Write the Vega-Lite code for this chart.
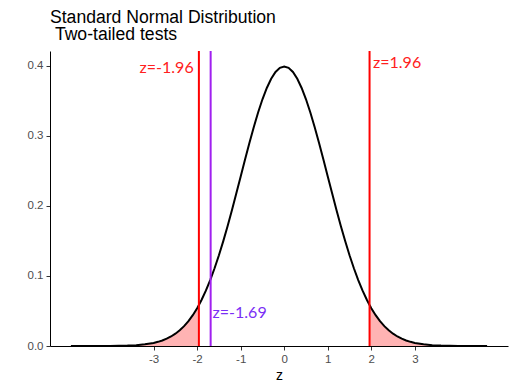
{
  "$schema": "https://vega.github.io/schema/vega-lite/v6.json",
  "width": 458,
  "height": 295,
  "autosize": "none",
  "padding": {"left": 50, "top": 51, "right": 9, "bottom": 38},
  "background": "white",
  "config": {"view": {"stroke": null}},
  "title": {
    "text": ["Standard Normal Distribution", "\u200b\u00a0Two-tailed tests"],
    "anchor": "start",
    "frame": "group",
    "font": "Liberation Sans",
    "fontSize": 17.6,
    "fontWeight": "normal",
    "color": "black",
    "lineHeight": 17.5,
    "baseline": "bottom",
    "offset": -12
  },
  "datasets": {
    "curve": [
      {"z": -4.9, "d": 0.0000},
      {"z": -4.5, "d": 0.00002},
      {"z": -4.2, "d": 0.00006},
      {"z": -4.0, "d": 0.00013},
      {"z": -3.8, "d": 0.00029},
      {"z": -3.6, "d": 0.00061},
      {"z": -3.4, "d": 0.00123},
      {"z": -3.2, "d": 0.00238},
      {"z": -3.0, "d": 0.00443},
      {"z": -2.9, "d": 0.00595},
      {"z": -2.8, "d": 0.00792},
      {"z": -2.7, "d": 0.01042},
      {"z": -2.6, "d": 0.01358},
      {"z": -2.5, "d": 0.01753},
      {"z": -2.4, "d": 0.02239},
      {"z": -2.3, "d": 0.02833},
      {"z": -2.2, "d": 0.03547},
      {"z": -2.1, "d": 0.04398},
      {"z": -2.0, "d": 0.05399},
      {"z": -1.96, "d": 0.05845},
      {"z": -1.9, "d": 0.06562},
      {"z": -1.8, "d": 0.07895},
      {"z": -1.7, "d": 0.09405},
      {"z": -1.6, "d": 0.11092},
      {"z": -1.5, "d": 0.12952},
      {"z": -1.4, "d": 0.14973},
      {"z": -1.3, "d": 0.17137},
      {"z": -1.2, "d": 0.19419},
      {"z": -1.1, "d": 0.21785},
      {"z": -1.0, "d": 0.24197},
      {"z": -0.9, "d": 0.26609},
      {"z": -0.8, "d": 0.28969},
      {"z": -0.7, "d": 0.31225},
      {"z": -0.6, "d": 0.33322},
      {"z": -0.5, "d": 0.35207},
      {"z": -0.4, "d": 0.36827},
      {"z": -0.3, "d": 0.38139},
      {"z": -0.2, "d": 0.39104},
      {"z": -0.1, "d": 0.39695},
      {"z": 0.0, "d": 0.39894},
      {"z": 0.1, "d": 0.39695},
      {"z": 0.2, "d": 0.39104},
      {"z": 0.3, "d": 0.38139},
      {"z": 0.4, "d": 0.36827},
      {"z": 0.5, "d": 0.35207},
      {"z": 0.6, "d": 0.33322},
      {"z": 0.7, "d": 0.31225},
      {"z": 0.8, "d": 0.28969},
      {"z": 0.9, "d": 0.26609},
      {"z": 1.0, "d": 0.24197},
      {"z": 1.1, "d": 0.21785},
      {"z": 1.2, "d": 0.19419},
      {"z": 1.3, "d": 0.17137},
      {"z": 1.4, "d": 0.14973},
      {"z": 1.5, "d": 0.12952},
      {"z": 1.6, "d": 0.11092},
      {"z": 1.7, "d": 0.09405},
      {"z": 1.8, "d": 0.07895},
      {"z": 1.9, "d": 0.06562},
      {"z": 1.96, "d": 0.05845},
      {"z": 2.0, "d": 0.05399},
      {"z": 2.1, "d": 0.04398},
      {"z": 2.2, "d": 0.03547},
      {"z": 2.3, "d": 0.02833},
      {"z": 2.4, "d": 0.02239},
      {"z": 2.5, "d": 0.01753},
      {"z": 2.6, "d": 0.01358},
      {"z": 2.7, "d": 0.01042},
      {"z": 2.8, "d": 0.00792},
      {"z": 2.9, "d": 0.00595},
      {"z": 3.0, "d": 0.00443},
      {"z": 3.2, "d": 0.00238},
      {"z": 3.4, "d": 0.00123},
      {"z": 3.6, "d": 0.00061},
      {"z": 3.8, "d": 0.00029},
      {"z": 4.0, "d": 0.00013},
      {"z": 4.3, "d": 0.00004},
      {"z": 4.66, "d": 0.00001}
    ],
    "vlines": [
      {"z": -1.96, "kind": "crit"},
      {"z": 1.96, "kind": "crit"},
      {"z": -1.69, "kind": "obs"}
    ],
    "labels": [
      {"z": -2.08, "y": 0.39, "label": "z=-1.96", "pos": "left"},
      {"z": 2.04, "y": 0.397, "label": "z=1.96", "pos": "right"},
      {"z": -1.645, "y": 0.04, "label": "z=-1.69", "pos": "obs"}
    ]
  },
  "encoding": {
    "x": {
      "field": "z",
      "type": "quantitative",
      "scale": {"domain": [-5.38, 5.14], "nice": false, "zero": false},
      "axis": {
        "values": [-3, -2, -1, 0, 1, 2, 3],
        "labelExpr": "'' + datum.value",
        "title": "z",
        "titleFont": "Liberation Sans",
        "titleFontSize": 14,
        "titleFontWeight": "normal",
        "titleColor": "black",
        "titlePadding": 4,
        "labelFont": "Liberation Sans",
        "labelFontSize": 11.5,
        "labelColor": "#4d4d4d",
        "labelPadding": 3,
        "tickColor": "#333333",
        "tickSize": 4,
        "domainColor": "black",
        "grid": false
      }
    }
  },
  "layer": [
    {
      "data": {"name": "curve"},
      "transform": [{"filter": "datum.z <= -1.96"}],
      "mark": {"type": "area", "color": "#ffb3b3", "opacity": 1},
      "encoding": {
        "y": {
          "field": "d",
          "type": "quantitative",
          "scale": {"domain": [0, 0.421], "nice": false},
          "axis": {
            "values": [0, 0.1, 0.2, 0.3, 0.4],
            "format": ".1f",
            "title": null,
            "labelFont": "Liberation Sans",
            "labelFontSize": 11.5,
            "labelColor": "#4d4d4d",
            "labelPadding": 3,
            "tickColor": "#333333",
            "tickSize": 4,
            "domainColor": "black",
            "grid": false
          }
        }
      }
    },
    {
      "data": {"name": "curve"},
      "transform": [{"filter": "datum.z >= 1.96"}],
      "mark": {"type": "area", "color": "#ffb3b3", "opacity": 1},
      "encoding": {"y": {"field": "d", "type": "quantitative"}}
    },
    {
      "data": {"name": "curve"},
      "mark": {"type": "line", "color": "black", "strokeWidth": 2},
      "encoding": {"y": {"field": "d", "type": "quantitative"}}
    },
    {
      "data": {"name": "vlines"},
      "mark": {"type": "rule", "strokeWidth": 2},
      "encoding": {
        "color": {
          "field": "kind",
          "type": "nominal",
          "scale": {"domain": ["crit", "obs"], "range": ["#ff0000", "#a020f0"]},
          "legend": null
        }
      }
    },
    {
      "data": {"name": "labels"},
      "transform": [{"filter": "datum.pos == 'left'"}],
      "mark": {"type": "text", "align": "right", "baseline": "alphabetic", "font": "Lato", "fontSize": 16, "color": "#ff2020"},
      "encoding": {
        "y": {"field": "y", "type": "quantitative"},
        "text": {"field": "label"}
      }
    },
    {
      "data": {"name": "labels"},
      "transform": [{"filter": "datum.pos == 'right'"}],
      "mark": {"type": "text", "align": "left", "baseline": "alphabetic", "font": "Lato", "fontSize": 16, "color": "#ff2020"},
      "encoding": {
        "y": {"field": "y", "type": "quantitative"},
        "text": {"field": "label"}
      }
    },
    {
      "data": {"name": "labels"},
      "transform": [{"filter": "datum.pos == 'obs'"}],
      "mark": {"type": "text", "align": "left", "baseline": "alphabetic", "font": "Lato", "fontSize": 16, "color": "#7a2ff5"},
      "encoding": {
        "y": {"field": "y", "type": "quantitative"},
        "text": {"field": "label"}
      }
    }
  ]
}
